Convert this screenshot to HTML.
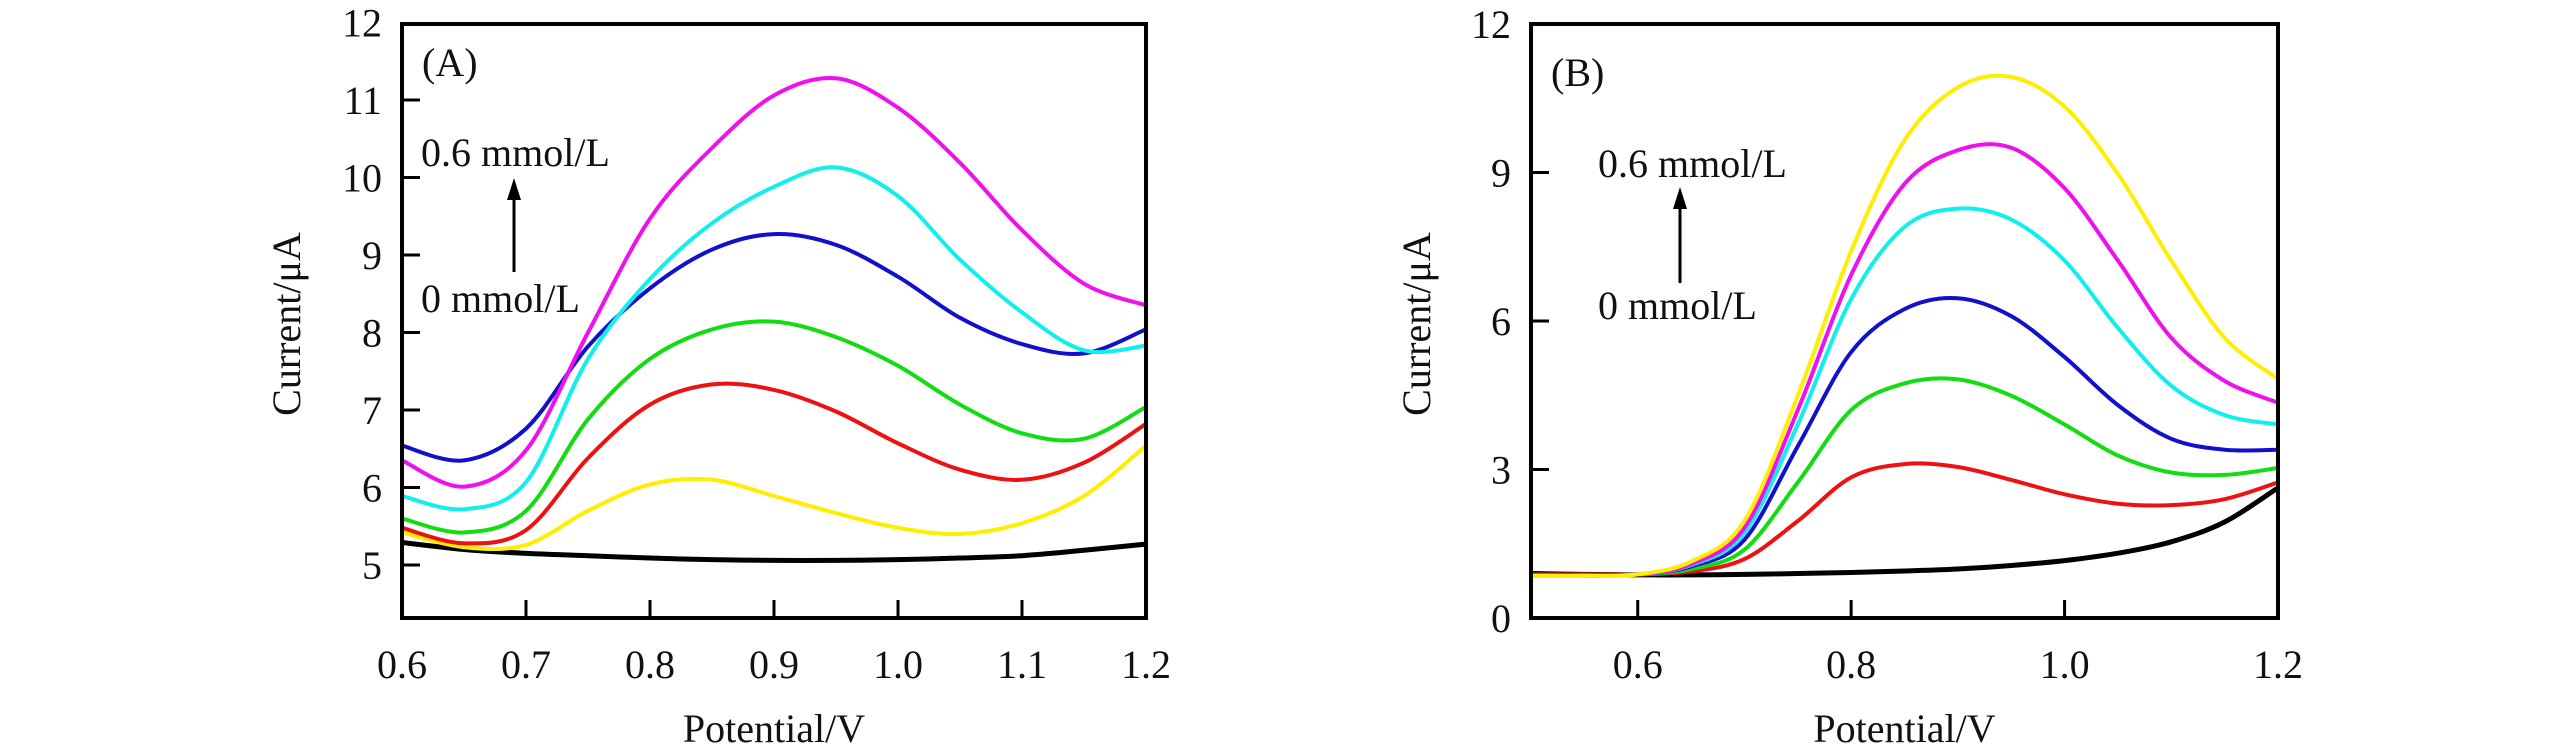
<!DOCTYPE html>
<html><head><meta charset="utf-8"><style>
html,body{margin:0;padding:0;background:#fff;}
svg{display:block;}
text{font-family:"Liberation Serif","DejaVu Serif",serif;fill:#111;}
</style></head><body>
<svg id="chart" width="2567" height="756" viewBox="0 0 2567 756" xmlns="http://www.w3.org/2000/svg" font-family="Liberation Serif, DejaVu Serif, serif">
<g id="panelA"></g>
<g id="panelB"></g>
</svg>
<script>
// Panel A data
const xA = [0.6,0.65,0.7,0.75,0.8,0.85,0.9,0.95,1.0,1.05,1.1,1.15,1.2];
const aMagenta = [6.35,6.01,6.48,8.0,9.47,10.38,11.06,11.28,10.9,10.19,9.32,8.63,8.35];
const aCyan = [5.89,5.72,6.07,7.66,8.69,9.41,9.88,10.13,9.76,8.94,8.26,7.77,7.83];
const aBlue = [6.54,6.35,6.76,7.82,8.57,9.07,9.27,9.13,8.72,8.19,7.85,7.73,8.04];
const aGreen = [5.6,5.42,5.7,6.88,7.66,8.04,8.14,7.94,7.57,7.07,6.7,6.63,7.04];
const aRed = [5.48,5.28,5.45,6.38,7.07,7.33,7.26,6.98,6.57,6.23,6.1,6.32,6.82];
const aYellow = [5.42,5.23,5.26,5.7,6.04,6.1,5.89,5.67,5.48,5.4,5.54,5.89,6.54];
const aBlack = [5.29,5.2,5.15,5.12,5.09,5.07,5.06,5.06,5.07,5.09,5.12,5.19,5.27];
const aXTicks = [0.6,0.7,0.8,0.9,1.0,1.1,1.2];
const aXTickLabels = ["0.6","0.7","0.8","0.9","1.0","1.1","1.2"];
const aYTicks = [5,6,7,8,9,10,11,12];
const aYTickLabels = ["5","6","7","8","9","10","11","12"];
// Panel B data
const xB = [0.5,0.55,0.6,0.65,0.7,0.75,0.8,0.85,0.9,0.95,1.0,1.05,1.1,1.15,1.2];
const bYellow = [0.85,0.85,0.88,1.14,1.96,4.49,7.41,9.65,10.72,10.93,10.33,8.97,7.22,5.66,4.83];
const bMagenta = [0.85,0.85,0.88,1.09,1.82,4.2,6.93,8.77,9.45,9.5,8.68,7.22,5.66,4.79,4.35];
const bCyan = [0.86,0.86,0.88,1.07,1.72,3.91,6.44,7.9,8.27,8.05,7.22,5.86,4.69,4.1,3.91];
const bBlue = [0.87,0.87,0.88,1.04,1.58,3.47,5.37,6.24,6.46,6.1,5.27,4.3,3.62,3.4,3.4];
const bGreen = [0.87,0.87,0.88,0.99,1.38,2.74,4.2,4.74,4.82,4.49,3.91,3.28,2.94,2.89,3.03];
const bRed = [0.88,0.88,0.88,0.94,1.19,1.96,2.84,3.11,3.05,2.79,2.5,2.31,2.28,2.4,2.74];
const bBlack = [0.9,0.88,0.87,0.87,0.88,0.9,0.92,0.95,0.99,1.06,1.16,1.31,1.54,1.94,2.63];
const bXTicks = [0.6,0.8,1.0,1.2];
const bXTickLabels = ["0.6","0.8","1.0","1.2"];
const bYTicks = [0,3,6,9,12];
const bYTickLabels = ["0","3","6","9","12"];

const NS = "http://www.w3.org/2000/svg";
function mk(tag, attrs, parent){const e=document.createElementNS(NS,tag);for(const k in attrs)e.setAttribute(k,attrs[k]);parent.appendChild(e);return e;}
function smooth(pts){
  let d="M"+pts[0][0].toFixed(1)+","+pts[0][1].toFixed(1);
  for(let i=0;i<pts.length-1;i++){
    const p0=pts[Math.max(0,i-1)],p1=pts[i],p2=pts[i+1],p3=pts[Math.min(pts.length-1,i+2)];
    const c1=[p1[0]+(p2[0]-p0[0])/6,p1[1]+(p2[1]-p0[1])/6];
    const c2=[p2[0]-(p3[0]-p1[0])/6,p2[1]-(p3[1]-p1[1])/6];
    d+="C"+c1[0].toFixed(1)+","+c1[1].toFixed(1)+" "+c2[0].toFixed(1)+","+c2[1].toFixed(1)+" "+p2[0].toFixed(1)+","+p2[1].toFixed(1);
  }
  return d;
}
const FF="Liberation Serif, DejaVu Serif, serif";
function panel(g, cfg){
  const sx=v=>cfg.L+(v-cfg.x0)/(cfg.x1-cfg.x0)*(cfg.R-cfg.L);
  const sy=v=>cfg.B-(v-cfg.y0)/(cfg.y1-cfg.y0)*(cfg.B-cfg.T);
  const clip="clip"+cfg.id;
  const cp=mk("clipPath",{id:clip},g);
  mk("rect",{x:cfg.L,y:cfg.T,width:cfg.R-cfg.L,height:cfg.B-cfg.T},cp);
  cfg.series.forEach(s=>{
    const pts=cfg.xs.map((x,i)=>[sx(x),sy(s.v[i])]);
    const p=mk("path",{d:smooth(pts),fill:"none",stroke:s.c,"stroke-width":s.w,"clip-path":"url(#"+clip+")"},g);
    
    
  });
  const fr=mk("rect",{x:cfg.L,y:cfg.T,width:cfg.R-cfg.L,height:cfg.B-cfg.T,fill:"none",stroke:"#000","stroke-width":4},g);
  
  
  cfg.xt.forEach((v,i)=>{
    const x=sx(v);
    if(x>cfg.L+3&&x<cfg.R-3){const t=mk("line",{x1:x,x2:x,y1:cfg.B,y2:cfg.B-18,stroke:"#000","stroke-width":3},g);
      
      }
    const l=mk("text",{x:x,y:cfg.B+60,"font-size":40,"text-anchor":"middle","font-family":FF},g);
    l.textContent=cfg.xl[i];
    
    
  });
  cfg.yt.forEach((v,i)=>{
    const y=sy(v);
    if(y>cfg.T+3&&y<cfg.B-3){const t=mk("line",{x1:cfg.L,x2:cfg.L+18,y1:y,y2:y,stroke:"#000","stroke-width":3},g);
      
      }
    const l=mk("text",{x:cfg.L-20,y:y+14,"font-size":40,"text-anchor":"end","font-family":FF},g);
    l.textContent=cfg.yl[i];
    
    
  });
  const xt=mk("text",{x:(cfg.L+cfg.R)/2,y:742,"font-size":40,"text-anchor":"middle","font-family":FF},g);
  xt.textContent="Potential/V";
  
  
  const yt=mk("text",{x:0,y:0,"font-size":40,"text-anchor":"middle","font-family":FF,transform:"translate("+cfg.ytx+",324) rotate(-90)"},g);
  yt.textContent="Current/\u03bcA";
  
  
  const pl=mk("text",{x:cfg.L+20,y:cfg.lab[0],"font-size":40,"font-family":FF},g);
  pl.textContent=cfg.id==="A"?"(A)":"(B)";
  
  
  const t1=mk("text",{x:cfg.ann[0],y:cfg.ann[1],"font-size":40,"font-family":FF},g);
  t1.textContent="0.6 mmol/L";
  
  
  const t2=mk("text",{x:cfg.ann[0],y:cfg.ann[2],"font-size":40,"font-family":FF},g);
  t2.textContent="0 mmol/L";
  
  
  const ax=cfg.arr[0];
  const a=mk("line",{x1:ax,x2:ax,y1:cfg.arr[2],y2:cfg.arr[1]+14,stroke:"#000","stroke-width":3},g);
  
  
  const h=mk("path",{d:"M"+ax+","+cfg.arr[1]+" L"+(ax-7)+","+(cfg.arr[1]+22)+" L"+(ax+7)+","+(cfg.arr[1]+22)+"Z",fill:"#000"},g);
  
  
}
panel(document.getElementById("panelA"),{id:"A",L:402,R:1146,T:24,B:618,x0:0.6,x1:1.2,y0:5-53/77.5,y1:5+541/77.5,
  xs:xA,xt:aXTicks,xl:aXTickLabels,yt:aYTicks,yl:aYTickLabels,ytx:300,lab:[76],ann:[421,166,312],arr:[514,178,272],
  series:[{n:"series-black",v:aBlack,c:"#000",w:5},{n:"series-yellow",v:aYellow,c:"#ffee00",w:4},{n:"series-red",v:aRed,c:"#ee1111",w:4},
  {n:"series-green",v:aGreen,c:"#11dd11",w:4},{n:"series-blue",v:aBlue,c:"#1111cc",w:4},{n:"series-cyan",v:aCyan,c:"#11eeee",w:4},{n:"series-magenta",v:aMagenta,c:"#ee11ee",w:4}]});
panel(document.getElementById("panelB"),{id:"B",L:1531,R:2278,T:24,B:618,x0:0.5,x1:1.2,y0:0,y1:12,
  xs:xB,xt:bXTicks,xl:bXTickLabels,yt:bYTicks,yl:bYTickLabels,ytx:1430,lab:[86],ann:[1598,177,319],arr:[1680,187,283],
  series:[{n:"series-black",v:bBlack,c:"#000",w:5},{n:"series-red",v:bRed,c:"#ee1111",w:4},{n:"series-green",v:bGreen,c:"#11dd11",w:4},
  {n:"series-blue",v:bBlue,c:"#1111cc",w:4},{n:"series-cyan",v:bCyan,c:"#11eeee",w:4},{n:"series-magenta",v:bMagenta,c:"#ee11ee",w:4},{n:"series-yellow",v:bYellow,c:"#ffee00",w:4}]});
</script>
</body></html>
